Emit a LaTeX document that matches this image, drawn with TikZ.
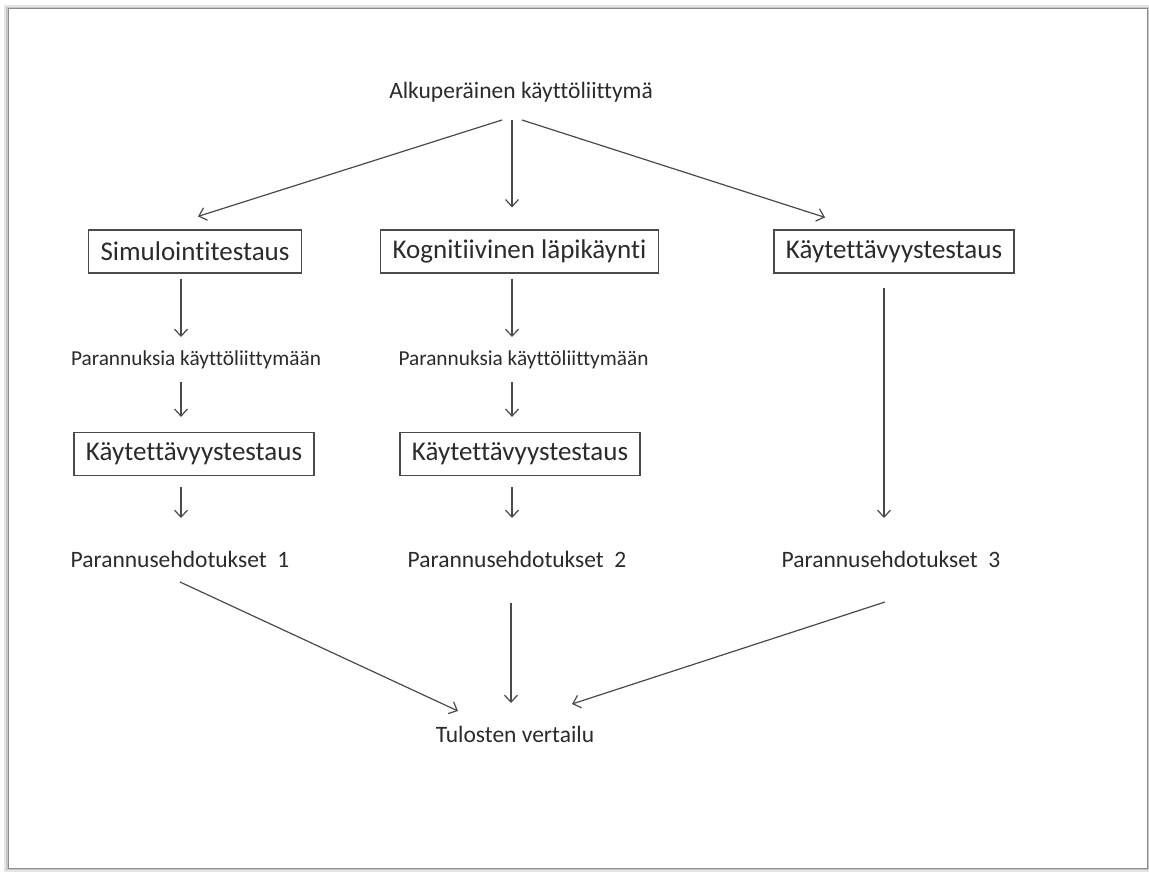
\documentclass[tikz,border=0pt]{standalone}
\usepackage{fontspec}
\setmainfont{Carlito}[Ligatures=NoCommon]
\usetikzlibrary{arrows.meta}
\definecolor{txt}{HTML}{2B2B2B}
\definecolor{ln}{HTML}{4A4A4A}
\begin{document}
\begin{tikzpicture}[x=1pt,y=-1pt,
  arr/.style={draw=ln,line width=1.2pt,-{Straight Barb[length=7pt,width=13pt,line width=1.2pt]}},
  boxnode/.style={draw=ln,line width=1.2pt,text=txt,font=\fontsize{27}{31}\selectfont,
    minimum height=43pt,inner xsep=12pt,inner ysep=0pt},
  plain/.style={text=txt,inner sep=0pt,anchor=base},
  tbig/.style={plain,font=\fontsize{23.5}{28}\selectfont},
  tsmall/.style={plain,font=\fontsize{21.3}{25}\selectfont}]
\fill[white] (0,0) rectangle (1149,872);
\useasboundingbox (0,0) rectangle (1149,872);
% frame with soft shadow
\draw[black!10,line width=4pt] (6,7) rectangle (1149,870);
\draw[black!22,line width=2pt] (7,8) rectangle (1148,869);
\draw[black!45,line width=1pt] (8,9) rectangle (1147,868);
% nodes
\node[tbig] (title) at (521,99) {Alkuperäinen käyttöliittymä};
\node[boxnode] (box1) at (195,251.5) {Simulointitestaus};
\node[boxnode] (box2) at (519.5,251.5) {Kognitiivinen läpikäynti};
\node[boxnode] (box3) at (894,251.5) {Käytettävyystestaus};
\node[tsmall] (par1) at (196,365) {Parannuksia käyttöliittymään};
\node[tsmall] (par2) at (523.5,365) {Parannuksia käyttöliittymään};
\node[boxnode] (box4) at (194,454) {Käytettävyystestaus};
\node[boxnode] (box5) at (520,454) {Käytettävyystestaus};
\node[tbig] (pe1) at (180,567) {Parannusehdotukset\ \ 1};
\node[tbig] (pe2) at (517,567) {Parannusehdotukset\ \ 2};
\node[tbig] (pe3) at (891,567) {Parannusehdotukset\ \ 3};
\node[tbig] (fin) at (515,742) {Tulosten vertailu};
% connectors from the top
\draw[arr] ([xshift=-19pt,yshift=-21pt]title.base) -- ([xshift=3pt,yshift=13pt]box1.north);
\draw[arr] ([xshift=-9pt,yshift=-21pt]title.base) -- ([xshift=-7.5pt,yshift=22pt]box2.north);
\draw[arr] ([xshift=1pt,yshift=-21pt]title.base) -- ([xshift=-69pt,yshift=12pt]box3.north);
% column 1
\draw[arr] ([xshift=-14pt,yshift=-5pt]box1.south) -- ([xshift=-15pt,yshift=28pt]par1.base);
\draw[arr] ([xshift=-15pt,yshift=-17pt]par1.base) -- ([xshift=-13pt,yshift=15pt]box4.north);
\draw[arr] ([xshift=-13pt,yshift=-11pt]box4.south) -- ([xshift=1pt,yshift=49pt]pe1.base);
\draw[arr] ([yshift=-15pt]pe1.base) -- ([xshift=-57pt,yshift=31pt]fin.base);
% column 2
\draw[arr] ([xshift=-7.5pt,yshift=-5pt]box2.south) -- ([xshift=-11.5pt,yshift=28pt]par2.base);
\draw[arr] ([xshift=-11.5pt,yshift=-17pt]par2.base) -- ([xshift=-8pt,yshift=15pt]box5.north);
\draw[arr] ([xshift=-8pt,yshift=-11pt]box5.south) -- ([xshift=-5pt,yshift=49pt]pe2.base);
\draw[arr] ([xshift=-6pt,yshift=-36pt]pe2.base) -- ([xshift=-4pt,yshift=39pt]fin.base);
% column 3
\draw[arr] ([xshift=-10pt,yshift=-14pt]box3.south) -- ([xshift=-7pt,yshift=49pt]pe3.base);
\draw[arr] ([xshift=-6pt,yshift=-35pt]pe3.base) -- ([xshift=57pt,yshift=38pt]fin.base);
\end{tikzpicture}
\end{document}
